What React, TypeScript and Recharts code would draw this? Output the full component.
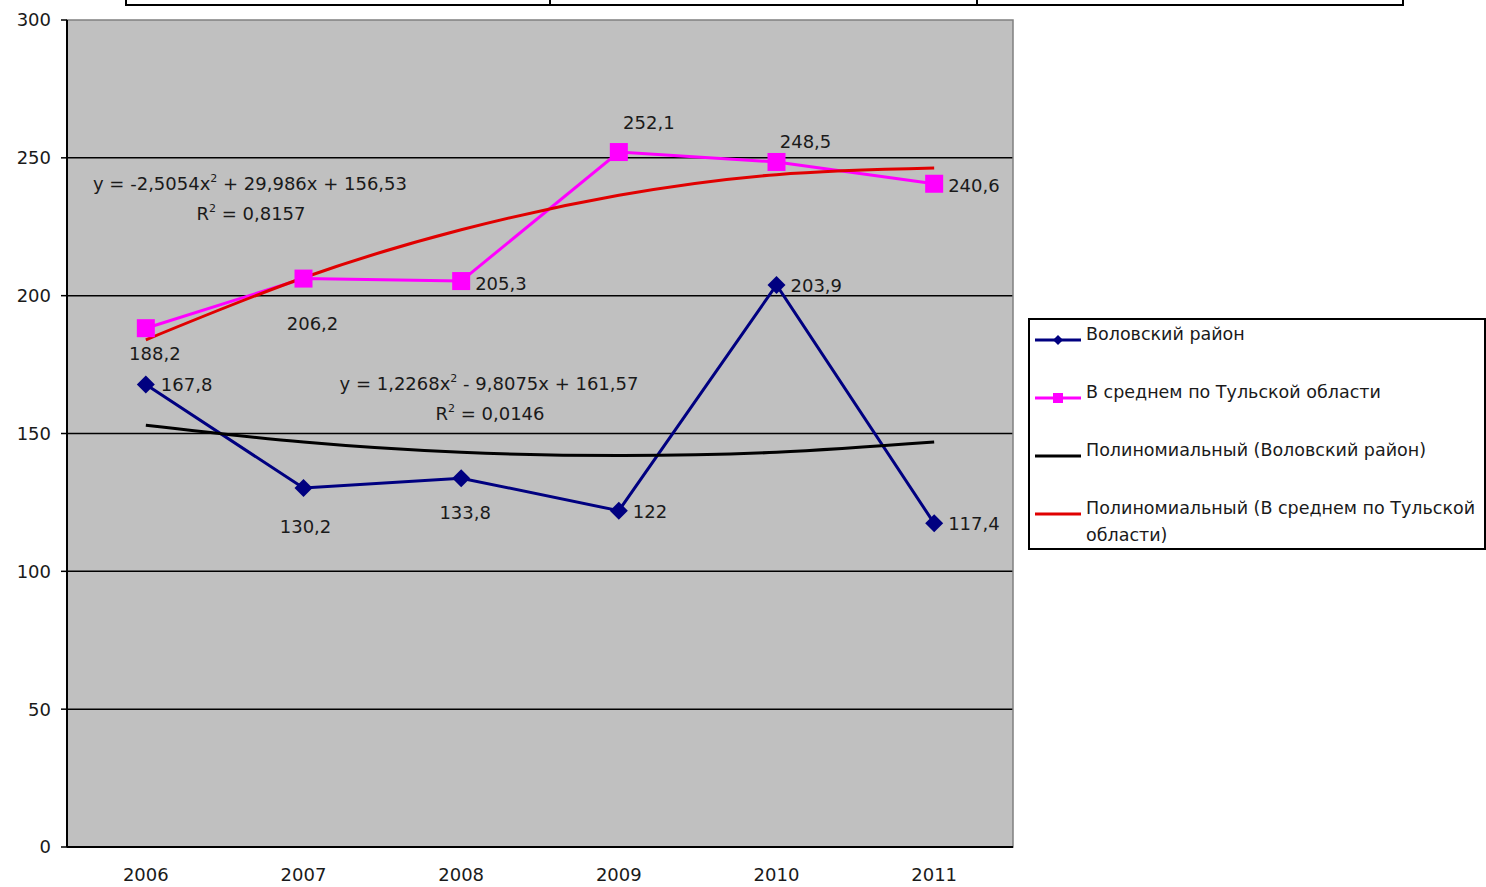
import {
  CartesianGrid,
  Line,
  LineChart,
  ReferenceArea,
  XAxis,
  YAxis,
} from "recharts";

const years = [2006, 2007, 2008, 2009, 2010, 2011];
const volovo = [167.8, 130.2, 133.8, 122, 203.9, 117.4];
const tula = [188.2, 206.2, 205.3, 252.1, 248.5, 240.6];
// polynomial trend values at each year
const volovoTrend = [153.0, 146.9, 143.2, 142.0, 143.2, 146.9];
const tulaTrend = [184.0, 206.5, 223.9, 236.4, 243.9, 246.3];
const yTicks = [0, 50, 100, 150, 200, 250, 300];

const seriesNames = [
  "Воловский район",
  "В среднем по Тульской области",
  "Полиномиальный (Воловский район)",
  "Полиномиальный (В среднем по Тульской области)",
];

const FONT = "'DejaVu Sans', Verdana, sans-serif";
const TEXT = "#1a1a1a";

const data = years.map((year, i) => ({
  x: i + 1,
  volovo: volovo[i],
  tula: tula[i],
  volovoTrend: volovoTrend[i],
  tulaTrend: tulaTrend[i],
}));

// label placement per point: dx, dy, anchor
const volovoLabelPos: [number, number, string][] = [
  [15, 7, "start"],
  [2, 45, "middle"],
  [4, 41, "middle"],
  [14, 7, "start"],
  [14, 7, "start"],
  [14, 7, "start"],
];
const tulaLabelPos: [number, number, string][] = [
  [9, 32, "middle"],
  [9, 51, "middle"],
  [14, 9, "start"],
  [30, -23, "middle"],
  [29, -14, "middle"],
  [14, 8, "start"],
];

const fmt = (v: number) => String(v).replace(".", ",");

function makeLabel(pos: [number, number, string][]) {
  return (props: any) => {
    const { x, y, index, value } = props;
    const [dx, dy, anchor] = pos[index];
    return (
      <text
        x={x + dx}
        y={y + dy}
        textAnchor={anchor}
        fontFamily={FONT}
        fontSize={18}
        fill={TEXT}
      >
        {fmt(value)}
      </text>
    );
  };
}

function Diamond(props: any) {
  const { cx, cy } = props;
  if (cx == null || cy == null) return null;
  const r = 9;
  return (
    <path
      d={`M${cx},${cy - r}L${cx + r},${cy}L${cx},${cy + r}L${cx - r},${cy}Z`}
      fill="#000080"
    />
  );
}

function Square(props: any) {
  const { cx, cy } = props;
  if (cx == null || cy == null) return null;
  return <rect x={cx - 9} y={cy - 9} width={18} height={18} fill="#ff00ff" />;
}

function LegendSample({ color, marker }: { color: string; marker?: "diamond" | "square" }) {
  return (
    <svg width={46} height={14} style={{ flex: "none", marginRight: 5 }}>
      <line x1={0} y1={7} x2={46} y2={7} stroke={color} strokeWidth={3} />
      {marker === "diamond" && <path d="M23,2L28,7L23,12L18,7Z" fill={color} />}
      {marker === "square" && <rect x={18} y={2} width={10} height={10} fill={color} />}
    </svg>
  );
}

const legendRows = [
  { color: "#000080", marker: "diamond" as const, top: 1 },
  { color: "#ff00ff", marker: "square" as const, top: 59 },
  { color: "#000000", top: 117 },
  { color: "#e00000", top: 175 },
];

export default function App() {
  const eqStyle = { fontFamily: FONT, fontSize: 18, fill: TEXT } as const;
  return (
    <div
      style={{
        position: "absolute",
        left: 0,
        top: 0,
        width: 1486,
        height: 887,
        background: "#fff",
        overflow: "hidden",
      }}
    >
      {/* table frame above the chart */}
      <svg width={1486} height={12} style={{ position: "absolute", left: 0, top: 0 }}>
        <g stroke="#000" strokeWidth={2}>
          <line x1={125} y1={5} x2={1404} y2={5} />
          <line x1={126} y1={0} x2={126} y2={6} />
          <line x1={550} y1={0} x2={550} y2={6} />
          <line x1={977} y1={0} x2={977} y2={6} />
          <line x1={1403} y1={0} x2={1403} y2={6} />
        </g>
      </svg>

      <LineChart
        width={1486}
        height={887}
        data={data}
        margin={{ top: 20, right: 473, bottom: 0, left: 0 }}
        style={{ position: "absolute", left: 0, top: 0 }}
      >
        <CartesianGrid
          horizontal={false}
          vertical={false}
          fill="#c0c0c0"
        />
        <ReferenceArea
          xAxisId="years"
          x1={0.5}
          x2={6.5}
          y1={0}
          y2={300}
          fill="none"
          stroke="#808080"
          strokeWidth={1.5}
        />
        <CartesianGrid
          horizontalValues={[50, 100, 150, 200, 250]}
          vertical={false}
          stroke="#000"
          strokeWidth={1.5}
          xAxisId="years"
        />
        <XAxis
          xAxisId="edges"
          type="number"
          dataKey="x"
          domain={[0.5, 6.5]}
          ticks={[0.5, 1.5, 2.5, 3.5, 4.5, 5.5, 6.5]}
          tick={false}
          axisLine={false}
          tickLine={{ stroke: "#000", strokeWidth: 1.5 }}
          tickSize={6}
          height={0}
        />
        <XAxis
          xAxisId="years"
          type="number"
          dataKey="x"
          domain={[0.5, 6.5]}
          ticks={[1, 2, 3, 4, 5, 6]}
          tickFormatter={(v: number) => String(years[v - 1])}
          tickLine={false}
          axisLine={{ stroke: "#000", strokeWidth: 2 }}
          tick={{ fontFamily: FONT, fontSize: 18, fill: TEXT }}
          tickMargin={15}
          height={40}
        />
        <YAxis
          type="number"
          domain={[0, 300]}
          ticks={yTicks}
          width={67}
          axisLine={{ stroke: "#000", strokeWidth: 2 }}
          tickLine={{ stroke: "#000", strokeWidth: 1.5 }}
          tickSize={6}
          tickMargin={10}
          tick={{ fontFamily: FONT, fontSize: 18, fill: TEXT }}
        />

        <Line
          xAxisId="years"
          dataKey="volovo"
          name={seriesNames[0]}
          stroke="#000080"
          strokeWidth={3}
          type="linear"
          dot={<Diamond />}
          label={makeLabel(volovoLabelPos)}
          isAnimationActive={false}
        />
        <Line
          xAxisId="years"
          dataKey="tula"
          name={seriesNames[1]}
          stroke="#ff00ff"
          strokeWidth={3}
          type="linear"
          dot={<Square />}
          label={makeLabel(tulaLabelPos)}
          isAnimationActive={false}
        />
        <Line
          xAxisId="years"
          dataKey="volovoTrend"
          name={seriesNames[2]}
          stroke="#000"
          strokeWidth={3}
          type="natural"
          dot={false}
          isAnimationActive={false}
        />
        <Line
          xAxisId="years"
          dataKey="tulaTrend"
          name={seriesNames[3]}
          stroke="#e00000"
          strokeWidth={3}
          type="natural"
          dot={false}
          isAnimationActive={false}
        />
      </LineChart>

      {/* trend equations */}
      <svg width={1486} height={887} style={{ position: "absolute", left: 0, top: 0, pointerEvents: "none" }}>
        <text x={250} y={190} textAnchor="middle" {...eqStyle}>
          y = -2,5054x<tspan dy={-8} fontSize={11}>2</tspan>
          <tspan dy={8}> + 29,986x + 156,53</tspan>
        </text>
        <text x={251} y={220} textAnchor="middle" {...eqStyle}>
          R<tspan dy={-8} fontSize={11}>2</tspan>
          <tspan dy={8}> = 0,8157</tspan>
        </text>
        <text x={489} y={390} textAnchor="middle" {...eqStyle}>
          y = 1,2268x<tspan dy={-8} fontSize={11}>2</tspan>
          <tspan dy={8}> - 9,8075x + 161,57</tspan>
        </text>
        <text x={490} y={420} textAnchor="middle" {...eqStyle}>
          R<tspan dy={-8} fontSize={11}>2</tspan>
          <tspan dy={8}> = 0,0146</tspan>
        </text>
      </svg>

      {/* legend */}
      <div
        style={{
          position: "absolute",
          left: 1028,
          top: 318,
          width: 454,
          height: 228,
          border: "2px solid #000",
          background: "#fff",
          overflow: "hidden",
          fontFamily: FONT,
          fontSize: 17.5,
          color: TEXT,
        }}
      >
        {legendRows.map((row, i) => (
          <div
            key={seriesNames[i]}
            style={{
              position: "absolute",
              left: 5,
              top: row.top,
              display: "flex",
              alignItems: "flex-start",
              width: 448,
              lineHeight: "27px",
              whiteSpace: "nowrap",
            }}
          >
            <div style={{ paddingTop: 7 }}>
              <LegendSample color={row.color} marker={row.marker} />
            </div>
            <div>
              {i === 3 ? (
                <>
                  Полиномиальный (В среднем по Тульской
                  <br />
                  области)
                </>
              ) : (
                seriesNames[i]
              )}
            </div>
          </div>
        ))}
      </div>
    </div>
  );
}
